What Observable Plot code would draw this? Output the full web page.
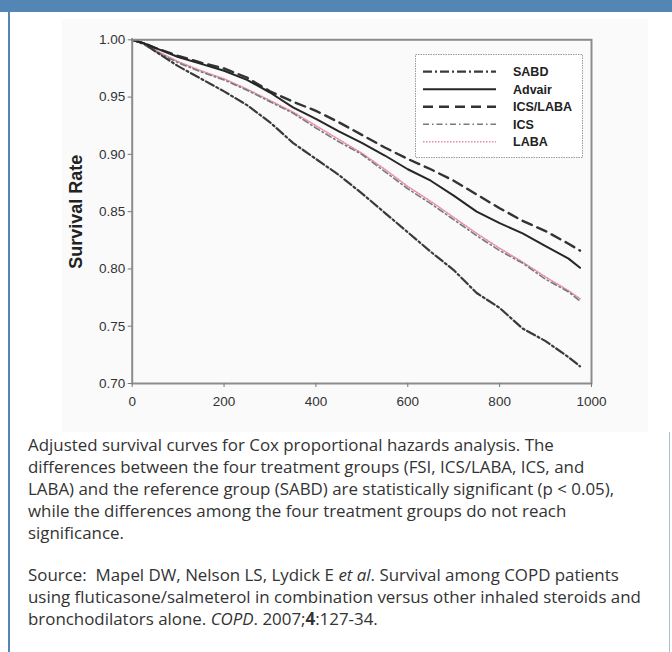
<!DOCTYPE html>
<html>
<head>
<meta charset="utf-8">
<script src="https://cdn.jsdelivr.net/npm/d3@7"></script>
<script src="https://cdn.jsdelivr.net/npm/@observablehq/plot@0.6"></script>
<style>
  html, body { margin: 0; padding: 0; background: #ffffff; }
  body { width: 672px; height: 652px; position: relative; overflow: hidden; }
  #header { position: absolute; left: 0; top: 0; width: 672px; height: 12px; background: #5385b5; }
  #leftbar { position: absolute; left: 8px; top: 12px; width: 2px; height: 640px; background: #5385b5; }
  #rightbar { position: absolute; left: 669px; top: 432px; width: 1px; height: 220px; background: #a9bdd3; }
  #imgbg { position: absolute; left: 62px; top: 19px; width: 586px; height: 413px; background: #fafafa; }
  #chart { position: absolute; left: 0; top: 14px; }
  #legend { position: absolute; left: 415px; top: 54px; }
  #caption { position: absolute; left: 28px; top: 434px; width: 640px; font-family: "Open Sans", "Noto Sans", sans-serif; font-size: 16.9px; line-height: 22px; color: #333; white-space: nowrap; }
  #caption p { margin: 0 0 20px 0; }
  g[aria-label="y-axis label"] text { font-weight: bold; font-size: 18px; fill: #222; }
</style>
</head>
<body>
<div id="header"></div>
<div id="leftbar"></div>
<div id="rightbar"></div>
<div id="imgbg"></div>
<div id="chart"></div>
<div id="legend"></div>
<div id="caption">
  <p>Adjusted survival curves for Cox proportional hazards analysis. The<br>differences between the four treatment groups (FSI, ICS/LABA, ICS, and<br>LABA) and the reference group (SABD) are statistically significant (p &lt; 0.05),<br>while the differences among the four treatment groups do not reach<br>significance.</p>
  <p>Source:&nbsp; Mapel DW, Nelson LS, Lydick E <i>et al</i>. Survival among COPD patients<br>using fluticasone/salmeterol in combination versus other inhaled steroids and<br>bronchodilators alone. <i>COPD</i>. 2007;<b>4</b>:127-34.</p>
</div>
<script>
// ---- data ----
const days = [0, 25, 50, 100, 150, 200, 250, 300, 350, 400, 450, 500, 550, 600, 650, 700, 750, 800, 850, 900, 950, 975];
const seriesNames = ["SABD", "Advair", "ICS/LABA", "ICS", "LABA"];
const sabd    = [1.000, 0.997, 0.990, 0.977, 0.966, 0.955, 0.943, 0.928, 0.910, 0.896, 0.882, 0.866, 0.849, 0.832, 0.815, 0.799, 0.779, 0.766, 0.748, 0.737, 0.723, 0.715];
const advair  = [1.000, 0.997, 0.993, 0.985, 0.979, 0.973, 0.965, 0.954, 0.941, 0.931, 0.920, 0.910, 0.899, 0.887, 0.877, 0.864, 0.850, 0.840, 0.831, 0.820, 0.809, 0.801];
const icsLaba = [1.000, 0.997, 0.993, 0.986, 0.980, 0.975, 0.967, 0.955, 0.946, 0.938, 0.928, 0.917, 0.906, 0.896, 0.887, 0.877, 0.865, 0.853, 0.842, 0.833, 0.822, 0.816];
const ics     = [1.000, 0.996, 0.990, 0.980, 0.972, 0.965, 0.956, 0.946, 0.936, 0.923, 0.911, 0.900, 0.885, 0.870, 0.857, 0.843, 0.829, 0.816, 0.805, 0.791, 0.780, 0.772];
const laba    = [1.000, 0.997, 0.991, 0.981, 0.973, 0.966, 0.957, 0.947, 0.937, 0.925, 0.913, 0.901, 0.887, 0.872, 0.859, 0.845, 0.831, 0.818, 0.806, 0.793, 0.781, 0.774];
const xTicks = [0, 200, 400, 600, 800, 1000];
const yTicks = [0.70, 0.75, 0.80, 0.85, 0.90, 0.95, 1.00];
const yLabel = "Survival Rate";

// ---- styles per series ----
const styles = {
  "SABD":     {stroke: "#3a3a3a", strokeWidth: 2.2, strokeDasharray: "9,3,2,3"},
  "Advair":   {stroke: "#262626", strokeWidth: 2.0, strokeDasharray: null},
  "ICS/LABA": {stroke: "#333333", strokeWidth: 2.4, strokeDasharray: "10,6"},
  "ICS":      {stroke: "#7a7a7a", strokeWidth: 1.6, strokeDasharray: "6,3,1.5,3"},
  "LABA":     {stroke: "#e68aa8", strokeWidth: 1.5, strokeDasharray: "1.5,1.5"}
};
const valuesBy = {"SABD": sabd, "Advair": advair, "ICS/LABA": icsLaba, "ICS": ics, "LABA": laba};
const rows = name => days.map((d, i) => ({series: name, day: d, value: valuesBy[name][i]}));

const drawOrder = ["LABA", "ICS", "SABD", "ICS/LABA", "Advair"];

const chart = Plot.plot({
  width: 672,
  height: 410,
  marginLeft: 131.7,
  marginRight: 81,
  marginTop: 25.3,
  marginBottom: 41,
  style: {background: "transparent", fontFamily: "'Liberation Sans', Arial, sans-serif", fontSize: "13.5px", color: "#333"},
  x: {domain: [0, 1000]},
  y: {domain: [0.70, 1.00]},
  marks: [
    ...drawOrder.map(name => Plot.line(rows(name), {
      x: "day", y: "value",
      stroke: styles[name].stroke,
      strokeWidth: styles[name].strokeWidth,
      strokeDasharray: styles[name].strokeDasharray,
      strokeLinejoin: "round"
    })),
    Plot.frame({stroke: "#8c8c8c", strokeWidth: 2}),
    Plot.axisX({ticks: xTicks, tickSize: 4, tickPadding: 9, tickFormat: d => String(d), label: null, stroke: "#777", fill: "#333"}),
    Plot.axisY({ticks: yTicks, tickSize: 4, tickPadding: 3, tickFormat: d3.format(".2f"), label: yLabel, labelAnchor: "center", labelArrow: "none", labelOffset: 63, stroke: "#777", fill: "#333"})
  ]
});
document.getElementById("chart").appendChild(chart);

// ---- legend (overlay) ----
const lw = 168, lh = 104;
const lg = d3.select("#legend").append("svg").attr("width", lw).attr("height", lh);
lg.append("rect").attr("x", 0.5).attr("y", 0.5).attr("width", lw - 1).attr("height", lh - 1)
  .attr("fill", "#ffffff").attr("stroke", "#9a9a9a").attr("stroke-width", 1).attr("stroke-dasharray", "1.5,1");
seriesNames.forEach((name, i) => {
  const y = 17.7 + i * 17.5;
  const s = styles[name];
  lg.append("line").attr("x1", 8).attr("x2", 81).attr("y1", y).attr("y2", y)
    .attr("stroke", s.stroke).attr("stroke-width", s.strokeWidth)
    .attr("stroke-dasharray", s.strokeDasharray);
  lg.append("text").attr("x", 98).attr("y", y).attr("dy", "0.35em")
    .attr("font-family", "'Liberation Sans', Arial, sans-serif").attr("font-weight", "bold")
    .attr("font-size", "12.5px").attr("fill", "#222").text(name);
});
</script>
</body>
</html>
